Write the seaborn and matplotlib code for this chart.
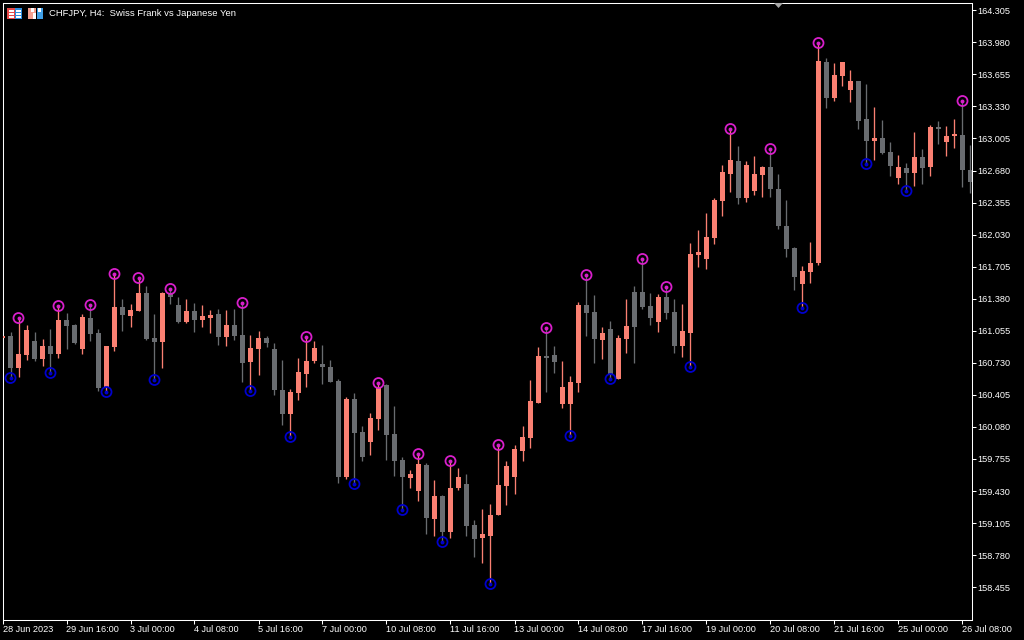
import numpy as np
import pandas as pd
import matplotlib
matplotlib.use("Agg")
import matplotlib.pyplot as plt
from matplotlib.patches import Rectangle, Polygon
from matplotlib.transforms import IdentityTransform
import seaborn as sns

# Candles, oldest first; the first one is the clipped candle at the left edge
highs = [161.002,
 161.043,161.184,161.113,161.043,160.972,161.073,161.306,161.235,161.124,161.225,
 161.316,161.073,160.901,161.631,161.377,161.326,161.590,161.509,161.225,161.448,
 161.479,161.397,161.377,161.337,161.316,161.266,161.276,161.266,161.276,161.337,
 161.012,161.053,161.002,160.931,160.759,160.465,160.779,160.992,160.951,160.911,
 160.759,160.566,160.383,160.424,160.089,160.221,160.525,160.515,160.292,159.775,
 159.643,159.805,159.714,159.542,159.390,159.734,159.663,159.603,159.136,159.248,
 159.298,159.897,159.734,159.897,160.089,160.556,160.890,161.083,160.901,160.748,
 160.596,161.347,161.620,161.418,161.093,161.154,161.012,161.377,161.509,161.783,
 161.438,161.428,161.499,161.377,161.326,161.945,162.077,162.249,162.401,162.736,
 163.101,162.929,162.776,162.827,162.726,162.898,162.645,162.381,161.904,161.712,
 161.955,163.973,163.821,163.770,163.780,163.699,163.588,163.557,163.324,163.192,
 162.969,162.837,162.756,163.071,162.898,163.141,163.182,163.131,163.202,163.385,
 162.939]
body_tops = [161.002,
 161.002,160.819,161.063,160.951,160.901,160.901,161.164,161.164,161.113,161.195,
 161.184,161.032,160.901,161.296,161.296,161.266,161.438,161.438,160.982,161.438,
 161.438,161.316,161.255,161.255,161.205,161.215,161.225,161.113,161.113,161.012,
 160.880,160.982,160.982,160.870,160.454,160.434,160.637,160.748,160.880,160.718,
 160.688,160.546,160.363,160.363,160.029,160.170,160.475,160.505,160.008,159.745,
 159.603,159.704,159.694,159.380,159.380,159.461,159.572,159.501,159.085,158.994,
 159.187,159.491,159.684,159.856,159.978,160.343,160.799,160.799,160.809,160.485,
 160.536,161.316,161.316,161.245,161.032,161.073,160.982,161.103,161.448,161.448,
 161.306,161.397,161.397,161.245,161.053,161.833,161.854,162.006,162.381,162.665,
 162.787,162.776,162.736,162.645,162.716,162.716,162.493,162.117,161.894,161.661,
 161.742,163.790,163.780,163.648,163.780,163.588,163.588,163.202,163.010,163.010,
 162.868,162.716,162.705,162.817,162.817,163.121,163.121,163.030,163.040,163.040,
 162.685]
body_bottoms = [160.982,
 160.677,160.677,160.809,160.769,160.769,160.819,160.819,161.103,160.931,160.870,
 161.022,160.475,160.485,160.890,161.215,161.205,161.255,160.972,160.941,160.941,
 161.397,161.144,161.144,161.164,161.164,161.184,160.992,160.992,161.002,160.728,
 160.738,160.870,160.931,160.454,160.211,160.211,160.424,160.617,160.748,160.688,
 160.536,159.572,159.572,160.018,159.775,159.927,160.160,159.998,159.734,159.572,
 159.562,159.430,159.156,159.146,159.015,159.015,159.461,159.075,158.943,158.954,
 158.974,159.187,159.481,159.572,159.836,159.968,160.323,160.779,160.738,160.312,
 160.312,160.525,161.235,160.972,160.961,160.606,160.566,160.972,161.093,161.296,
 161.184,161.144,161.235,160.901,160.901,161.032,161.823,161.783,161.996,162.371,
 162.645,162.401,162.401,162.472,162.634,162.493,162.117,161.884,161.600,161.529,
 161.651,161.742,163.415,163.415,163.638,163.496,163.182,162.979,162.979,162.858,
 162.726,162.604,162.655,162.655,162.705,162.716,163.101,162.969,163.030,162.685,
 162.564]
lows = [160.982,
 160.576,160.586,160.759,160.748,160.698,160.627,160.779,160.870,160.921,160.819,
 160.951,160.444,160.434,160.850,161.053,161.093,161.255,160.961,160.556,160.677,
 161.326,161.134,161.134,161.043,161.093,161.032,160.911,160.901,160.961,160.536,
 160.444,160.606,160.890,160.404,160.099,159.978,160.353,160.485,160.728,160.515,
 160.536,159.511,159.552,159.501,159.734,159.795,160.049,159.745,159.582,159.238,
 159.461,159.329,158.994,158.974,158.913,158.954,159.440,158.974,158.761,158.700,
 158.487,159.187,159.288,159.400,159.734,159.866,160.323,160.434,160.627,160.272,
 159.988,160.434,161.002,160.728,160.769,160.566,160.566,160.830,160.728,161.276,
 161.113,161.043,161.174,160.830,160.789,160.688,161.702,161.681,161.935,162.219,
 162.462,162.340,162.361,162.432,162.411,162.411,162.087,161.803,161.468,161.286,
 161.539,161.722,163.314,163.385,163.537,163.375,163.101,162.746,162.787,162.847,
 162.624,162.543,162.472,162.523,162.543,162.624,162.949,162.827,162.908,162.513,
 162.452]
# Candle direction: U closes above its open, D closes below it
direction = ("U"
 "DUUDUDUDDU"
 "DDUUDUUDDU"
 "DDUDUUDUDD"
 "UUDDDUUUUD"
 "DDUDDUUDDD"
 "UUDUDUUDDU"
 "UUUUUUUDDU"
 "UUDDUDUUDD"
 "DUDDUUUUUU"
 "UDUUUDDDDU"
 "UUDUUUDDUD"
 "DUDUDUDUUD"
 "D")

# Candles carrying the swing-high and swing-low markers
swing_high_idx = [1,6,10,13,16,20,29,37,46,51,55,61,67,72,79,82,90,95,101,119]
swing_low_idx = [0,5,12,18,30,35,43,49,54,60,70,75,85,99,107,112]

price_ticks = [164.305,163.980,163.655,163.330,163.005,162.680,162.355,162.030,161.705,161.380,161.055,160.730,160.405,160.080,159.755,159.430,159.105,158.780,158.455]
time_labels = ["28 Jun 2023","29 Jun 16:00","3 Jul 00:00","4 Jul 08:00","5 Jul 16:00","7 Jul 00:00","10 Jul 08:00","11 Jul 16:00","13 Jul 00:00","14 Jul 08:00","17 Jul 16:00","19 Jul 00:00","20 Jul 08:00","21 Jul 16:00","25 Jul 00:00","26 Jul 08:00"]
title_text = "CHFJPY, H4:  Swiss Frank vs Japanese Yen"

BULL, BEAR, HI, LO, WHITE = "#FA8072", "#696C70", "#D81FCB", "#0000CD", "#FFFFFF"
W, H = 1024, 640
L_, R_, T_, B_ = 2.5, 971.5, 2.5, 619.5

sns.set_theme(style="dark", rc={"figure.facecolor": "black", "axes.facecolor": "black",
                                "axes.edgecolor": WHITE, "axes.grid": False,
                                "xtick.color": WHITE, "ytick.color": WHITE})
plt.rcParams["font.family"] = ["Liberation Sans", "DejaVu Sans"]

df = pd.DataFrame({"high": highs, "top": body_tops, "bottom": body_bottoms, "low": lows,
                   "dir": list(direction)})
df["pos"] = np.arange(len(df)) - 1
df["color"] = np.where(df["dir"] == "U", BULL, BEAR)

fig = plt.figure(figsize=(W / 100, H / 100), dpi=100, facecolor="black")
ax = fig.add_axes([L_ / W, 1 - B_ / H, (R_ - L_) / W, (B_ - T_) / H])

ax.vlines(df["pos"], df["low"], df["high"], colors=df["color"], linewidth=0.95, zorder=2)
ax.bar(df["pos"], (df["top"] - df["bottom"]).clip(lower=0.02), bottom=df["bottom"], width=0.66,
       color=df["color"], linewidth=0, zorder=3)

hi = df.iloc[[i + 1 for i in swing_high_idx]]
lo = df.iloc[[i + 1 for i in swing_low_idx]]
for sub, y, col in ((hi, "high", HI), (lo, "low", LO)):
    sns.scatterplot(data=sub, x="pos", y=y, ax=ax, s=52, facecolor="none", edgecolor=col,
                    linewidth=1.3, legend=False, zorder=4)
    sns.scatterplot(data=sub, x="pos", y=y, ax=ax, s=8, color=col, linewidth=0, legend=False, zorder=5)

ax.set_xlim(-1, 120.125)
ax.set_ylim(164.409 - 0.01014 * B_, 164.409 - 0.01014 * T_)
ax.set_xlabel("")
ax.set_ylabel("")

ax.set_xticks(np.arange(len(time_labels)) * 8 - 1)
ax.set_xticklabels(time_labels, ha="left", fontsize=6.6, color=WHITE)
ax.yaxis.tick_right()
ax.set_yticks(price_ticks)
ax.set_yticklabels([f"{p:.3f}" for p in price_ticks], fontsize=6.6, color=WHITE)
ax.tick_params(axis="x", length=3, width=0.75, color=WHITE, pad=0.8, bottom=True)
ax.tick_params(axis="y", length=3, width=0.75, color=WHITE, pad=1.5, right=True)
for s in ax.spines.values():
    s.set_color(WHITE)
    s.set_linewidth(0.75)
    s.set_visible(True)

px = IdentityTransform()
def rect(x, y, w, h, c):
    fig.add_artist(Rectangle((x, H - y - h), w, h, facecolor=c, edgecolor="none", transform=px))

# Header icons
rect(7, 8, 15, 11, "#F0F0F0")
rect(7, 8, 7.5, 11, "#E84848")
rect(14.5, 8, 7.5, 11, "#2F8FE0")
for yy in (10, 13, 16):
    rect(9, yy, 4.5, 1.5, "#FFFFFF")
    rect(15.5, yy, 5, 1.5, "#FFFFFF")
rect(28, 8, 7.5, 11, "#F4A090")
rect(35.5, 8, 7.5, 11, "#40A0E8")
rect(31, 8, 2.5, 4, "#FFFFFF")
rect(38, 8, 2.5, 4, "#FFFFFF")
rect(33, 13, 3, 6, "#FFFFFF")
rect(35.5, 8, 1, 11, "#000000")

fig.text(49 / W, 1 - 14 / H, title_text, color=WHITE, fontsize=6.8, va="center", ha="left")
fig.add_artist(Polygon([(774, H - 3), (783, H - 3), (778.5, H - 8)], closed=True,
                       facecolor="#A8A8A8", edgecolor="none", transform=px))

fig.savefig("out.png", dpi=100, facecolor="black")
